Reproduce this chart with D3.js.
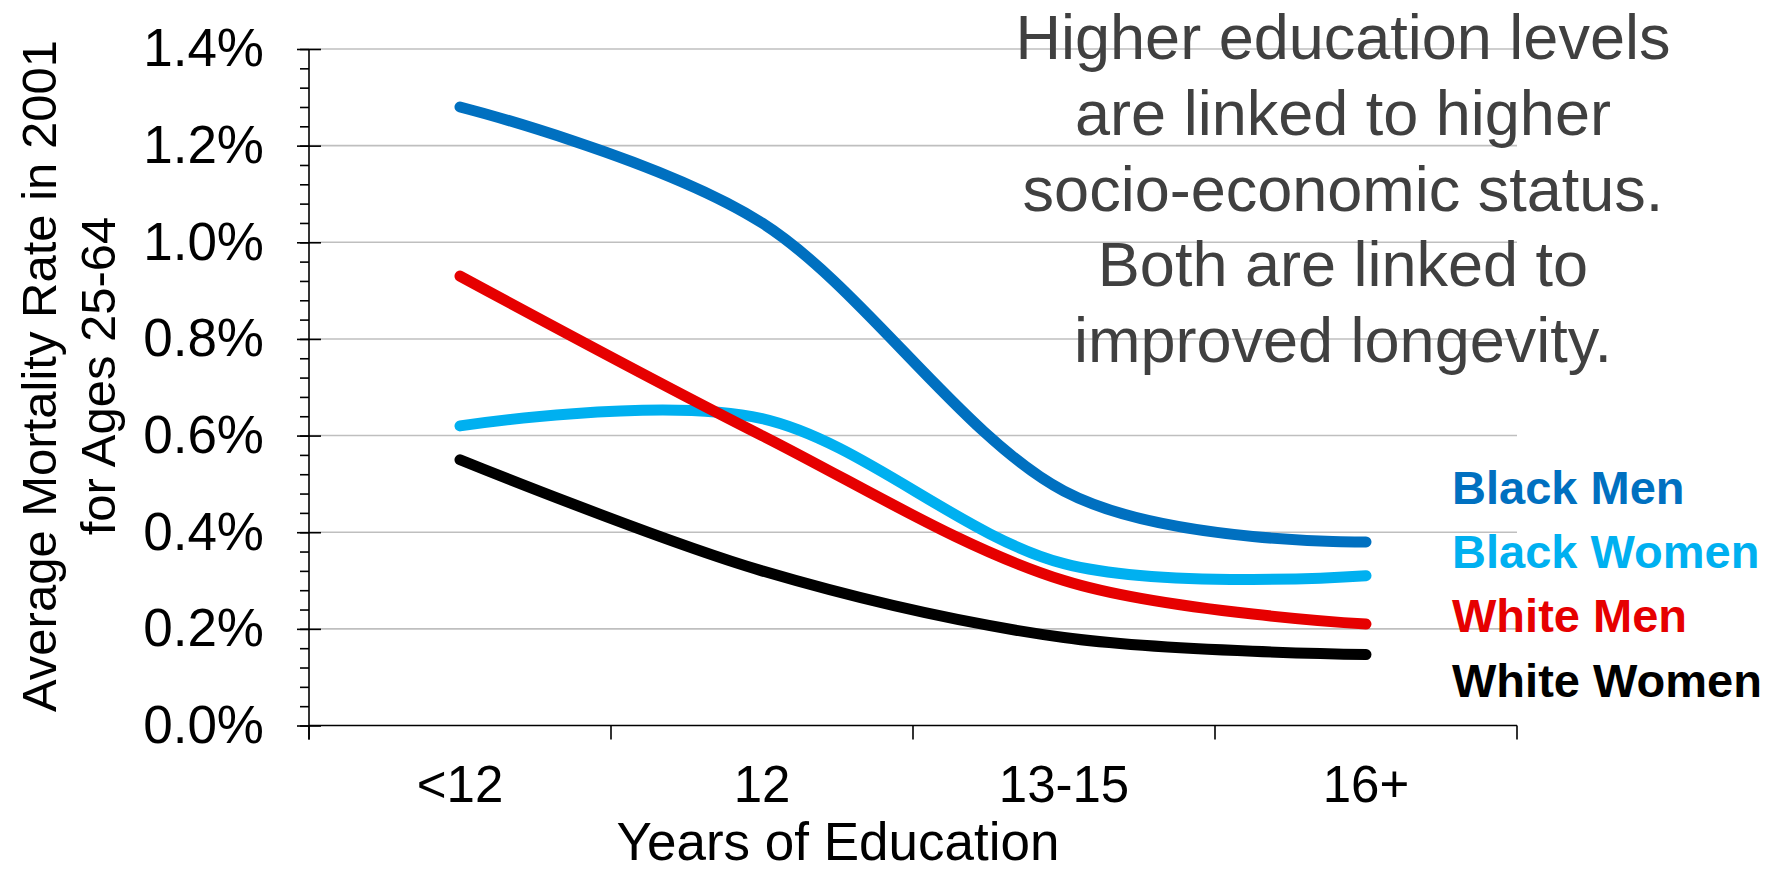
<!DOCTYPE html>
<html>
<head>
<meta charset="utf-8">
<script src="https://cdn.jsdelivr.net/npm/d3@7"></script>
<style>
  html, body { margin: 0; padding: 0; background: #ffffff; }
  svg { display: block; }
  text { font-family: "Liberation Sans", Arial, Helvetica, sans-serif; }
</style>
</head>
<body>
<svg id="chart" width="1783" height="874"></svg>
<script>
// Education categories and mortality rates (%) by group
const categories = ["<12", "12", "13-15", "16+"];
const blackMen   = [1.28, 1.04, 0.485, 0.38];
const blackWomen = [0.62, 0.635, 0.335, 0.31];
const whiteMen   = [0.93, 0.60, 0.30, 0.21];
const whiteWomen = [0.55, 0.32, 0.182, 0.147];
const seriesNames  = ["Black Men", "Black Women", "White Men", "White Women"];
const seriesColors = ["#0070C0", "#00B0F0", "#E60000", "#000000"];
const majorTicks = [0, 0.2, 0.4, 0.6, 0.8, 1.0, 1.2, 1.4];
const minorTicks = d3.range(0, 1.4001, 0.04);
const noteLines = [
  "Higher education levels",
  "are linked to higher",
  "socio-economic status.",
  "Both are linked to",
  "improved longevity."
];

const series = [blackMen, blackWomen, whiteMen, whiteWomen].map((vals, i) => ({
  name: seriesNames[i], color: seriesColors[i], values: vals
}));

const svg = d3.select("#chart");

const plotL = 309, plotR = 1517, plotT = 49, plotB = 725.5;

const x = d3.scaleBand().domain(categories).range([plotL, plotR]).padding(0);
const y = d3.scaleLinear().domain([0, 1.4]).range([plotB, plotT]);

// horizontal gridlines
svg.append("g")
  .selectAll("line")
  .data(majorTicks.filter(d => d > 0))
  .join("line")
  .attr("x1", plotL).attr("x2", plotR)
  .attr("y1", d => y(d)).attr("y2", d => y(d))
  .attr("stroke", "#bfbfbf").attr("stroke-width", 1.6);

// minor ticks on the value axis
svg.append("g")
  .attr("transform", `translate(${plotL},0)`)
  .call(d3.axisLeft(y).tickValues(minorTicks).tickSize(9).tickFormat(""))
  .call(g => g.select(".domain").remove())
  .call(g => g.selectAll("line").attr("stroke", "#000").attr("stroke-width", 1.6));

// major ticks and labels on the value axis
const yAxis = svg.append("g")
  .attr("transform", `translate(${plotL},0)`)
  .call(d3.axisLeft(y).tickValues(majorTicks).tickSize(12).tickPadding(33)
        .tickFormat(d => d3.format(".1f")(d) + "%"))
  .call(g => g.select(".domain").remove());
yAxis.selectAll(".tick line").attr("x2", 12).attr("x1", -12)
  .attr("stroke", "#000").attr("stroke-width", 1.6);
yAxis.selectAll(".tick text")
  .attr("fill", "#000")
  .style("font-size", "53px")
  .style("font-family", "'Liberation Sans', Arial, sans-serif");

// value axis line
svg.append("line")
  .attr("x1", plotL).attr("x2", plotL)
  .attr("y1", plotT).attr("y2", plotB + 14)
  .attr("stroke", "#000").attr("stroke-width", 1.6);

// category axis line
svg.append("line")
  .attr("x1", plotL).attr("x2", plotR)
  .attr("y1", plotB).attr("y2", plotB)
  .attr("stroke", "#000").attr("stroke-width", 1.6);

// category boundary ticks
const bounds = categories.map(c => x(c)).concat([plotR]);
svg.append("g")
  .selectAll("line")
  .data(bounds)
  .join("line")
  .attr("x1", d => d).attr("x2", d => d)
  .attr("y1", plotB).attr("y2", plotB + 14)
  .attr("stroke", "#000").attr("stroke-width", 1.6);

// category labels
svg.append("g")
  .attr("transform", `translate(0,${plotB})`)
  .call(d3.axisBottom(x).tickSize(0).tickPadding(40))
  .call(g => g.select(".domain").remove())
  .call(g => g.selectAll("text")
    .attr("fill", "#000")
    .style("font-size", "51px")
    .style("font-family", "'Liberation Sans', Arial, sans-serif"));

// axis titles
svg.append("text")
  .attr("x", 838).attr("y", 860)
  .attr("text-anchor", "middle")
  .attr("fill", "#000")
  .style("font-size", "53px")
  .text("Years of Education");

const yTitle = svg.append("text")
  .attr("transform", "translate(0,376) rotate(-90)")
  .attr("text-anchor", "middle")
  .attr("fill", "#000")
  .style("font-size", "49px");
yTitle.append("tspan").attr("x", 0).attr("y", 56).text("Average Mortality Rate in 2001");
yTitle.append("tspan").attr("x", 0).attr("y", 115).text("for Ages 25-64");

// smoothed series lines
const line = d3.line()
  .x((d, i) => x(categories[i]) + x.bandwidth() / 2)
  .y(d => y(d))
  .curve(d3.curveCardinal.tension(0));

svg.append("g")
  .selectAll("path")
  .data(series)
  .join("path")
  .attr("d", d => line(d.values))
  .attr("fill", "none")
  .attr("stroke", d => d.color)
  .attr("stroke-width", 11)
  .attr("stroke-linecap", "round")
  .attr("stroke-linejoin", "round");

// series labels
svg.append("g")
  .selectAll("text")
  .data(series)
  .join("text")
  .attr("x", 1452)
  .attr("y", (d, i) => 504 + i * 64.2)
  .attr("fill", d => d.color)
  .style("font-size", "47px")
  .style("font-weight", "bold")
  .text(d => d.name);

// annotation
svg.append("g")
  .selectAll("text")
  .data(noteLines)
  .join("text")
  .attr("x", 1343)
  .attr("y", (d, i) => 59 + i * 75.8)
  .attr("text-anchor", "middle")
  .attr("fill", "#404040")
  .style("font-size", "63px")
  .text(d => d);
</script>
</body>
</html>
